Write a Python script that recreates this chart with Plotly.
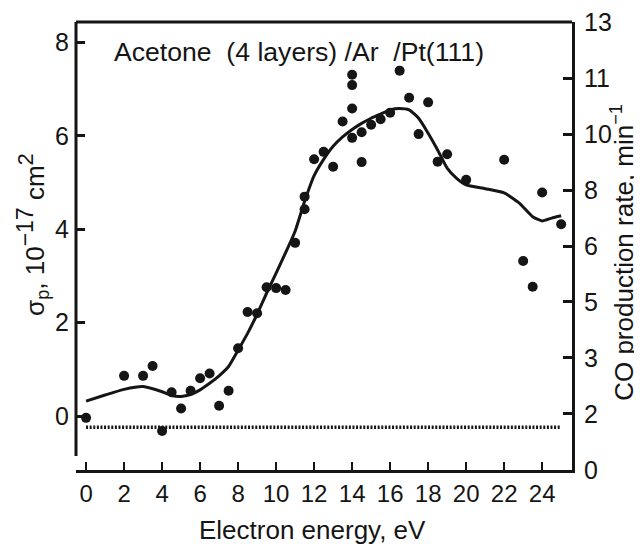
import plotly.graph_objects as go

# measured points (electron energy, eV ; sigma_p, 1e-17 cm^2)
energy_pts = [0, 2, 3, 3.5, 4, 4.5, 5, 5.5, 6, 6.5, 7, 7.5, 8, 8.5, 9, 9.5, 10, 10.5,
              11, 11.5, 11.5, 12, 12.5, 13, 13.5, 14, 14, 14, 14, 14.5, 14.5, 15, 15.5,
              16, 16.5, 17, 17.5, 18, 18.5, 19, 20, 22, 23, 23.5, 24, 25]
sigma_pts = [-0.04, 0.86, 0.86, 1.07, -0.32, 0.51, 0.16, 0.54, 0.81, 0.91, 0.22, 0.54,
             1.45, 2.23, 2.20, 2.76, 2.74, 2.70, 3.71, 4.43, 4.70, 5.50, 5.66, 5.34,
             6.31, 6.59, 7.09, 7.31, 5.96, 6.08, 5.44, 6.24, 6.36, 6.50, 7.40, 6.82,
             6.04, 6.72, 5.45, 5.61, 5.06, 5.49, 3.32, 2.77, 4.79, 4.11]

# smooth curve
energy_fit = [0, 1, 2, 3, 4, 4.5, 5, 5.5, 6, 6.5, 7, 7.5, 8, 8.5, 9, 9.5, 10, 10.5, 11,
              11.5, 12, 12.5, 13, 13.5, 14, 14.5, 15, 15.5, 16, 16.5, 17, 17.5, 18,
              18.5, 19, 19.5, 20, 21, 22, 22.8, 23.5, 24, 24.5, 25]
sigma_fit = [0.32, 0.45, 0.57, 0.63, 0.52, 0.44, 0.42, 0.46, 0.56, 0.70, 0.86, 1.06,
             1.41, 1.77, 2.18, 2.63, 3.06, 3.50, 3.96, 4.60, 5.15, 5.50, 5.78, 5.98,
             6.14, 6.27, 6.38, 6.47, 6.56, 6.59, 6.56, 6.38, 6.06, 5.70, 5.31, 5.09,
             4.95, 4.87, 4.78, 4.56, 4.27, 4.18, 4.24, 4.29]

# dotted baseline
baseline_x = [0, 25]
baseline_y = [-0.24, -0.24]

x_ticks = [0, 2, 4, 6, 8, 10, 12, 14, 16, 18, 20, 22, 24]
left_ticks = [0, 2, 4, 6, 8]
right_tick_labels = ["0", "2", "3", "5", "6", "8", "10", "11", "13"]

INK = "#151515"
FONT = "Liberation Sans, Arial, sans-serif"
NB = "\u00a0"

fig = go.Figure()
fig.add_trace(go.Scatter(x=baseline_x, y=baseline_y, mode="lines",
                         line=dict(color=INK, width=3.5, dash="2px,1.6px"),
                         hoverinfo="skip", showlegend=False))
fig.add_trace(go.Scatter(x=energy_fit, y=sigma_fit, mode="lines",
                         line=dict(color=INK, width=3, shape="spline", smoothing=0.5),
                         showlegend=False))
fig.add_trace(go.Scatter(x=energy_pts, y=sigma_pts, mode="markers",
                         marker=dict(color=INK, size=10),
                         showlegend=False))
fig.add_trace(go.Scatter(x=[None], y=[None], yaxis="y2", showlegend=False,
                         hoverinfo="skip"))

fig.update_layout(
    width=634, height=536,
    margin=dict(l=68, r=70, t=14, b=74, autoexpand=False),
    paper_bgcolor="white", plot_bgcolor="white",
    font=dict(family=FONT, size=25, color=INK),
    xaxis=dict(range=[-0.53, 25.57], tickvals=x_ticks, showgrid=False,
               zeroline=False, showline=True, linewidth=3, linecolor=INK,
               ticks="inside", ticklen=8, tickwidth=2, tickcolor=INK,
               tickfont=dict(size=24), ticklabelstandoff=0, automargin=False),
    yaxis=dict(range=[-1.157, 8.442], tickvals=left_ticks, showgrid=False,
               zeroline=False, showline=False,
               ticks="inside", ticklen=9, tickwidth=2.5, tickcolor=INK,
               tickfont=dict(size=25), ticklabelstandoff=6, automargin=False),
    yaxis2=dict(range=[-0.003, 8.003], overlaying="y", side="right",
                tickvals=list(range(len(right_tick_labels))),
                ticktext=right_tick_labels, showgrid=False, zeroline=False,
                showline=True, linewidth=3, linecolor=INK,
                ticks="inside", ticklen=9, tickwidth=2.5, tickcolor=INK,
                tickfont=dict(size=25), ticklabelstandoff=4,
                ticklabeloverflow="allow", automargin=False),
    shapes=[
        dict(type="line", xref="paper", yref="paper", x0=0, x1=0, y0=0.031, y1=1,
             line=dict(color=INK, width=3)),
        dict(type="line", xref="paper", yref="paper", x0=0, x1=1, y0=1, y1=1,
             line=dict(color=INK, width=3)),
    ],
    annotations=[
        dict(text="Acetone" + NB + NB + "(4 layers) /Ar" + NB + NB + "/Pt(111)",
             xref="paper", yref="paper",
             x=0.0726, y=0.933, xanchor="left", yanchor="middle", showarrow=False,
             font=dict(size=26.6)),
        dict(text="Electron energy, eV", xref="paper", yref="paper",
             x=0.476, y=-0.134, xanchor="center", yanchor="middle", showarrow=False,
             font=dict(size=26)),
        dict(text="σ<sub>p</sub>, 10<sup><span style='font-size:23px'>−17</span></sup>"
                  " cm<sup><span style='font-size:22px'>2</span></sup>",
             xref="paper", yref="paper", x=-0.0867, y=0.527, xanchor="center",
             yanchor="middle", textangle=-90, showarrow=False, font=dict(size=26)),
        dict(text="CO production rate, min<sup>−1</sup>", xref="paper",
             yref="paper", x=1.1028, y=0.487, xanchor="center", yanchor="middle",
             textangle=-90, showarrow=False, font=dict(size=26)),
    ],
)

fig.write_html("out.html")
